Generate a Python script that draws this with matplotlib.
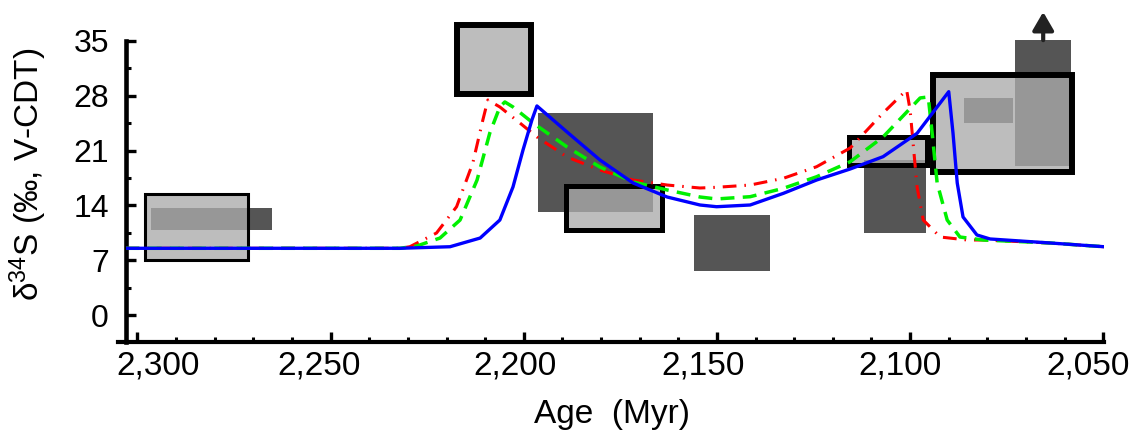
import numpy as np
import matplotlib
matplotlib.use('Agg')
import matplotlib.pyplot as plt
from matplotlib.patches import Rectangle
from matplotlib.transforms import ScaledTranslation

plt.rcParams['font.family'] = ['Liberation Sans', 'DejaVu Sans']
plt.rcParams['mathtext.fontset'] = 'custom'
plt.rcParams['mathtext.rm'] = 'Liberation Sans'
plt.rcParams['mathtext.it'] = 'Liberation Sans:italic'

# framed light boxes: age range (Myr) and d34S range (permil)
box_old = [2298.0, 2217.3, 2189.2, 2115.7, 2094.0]
box_young = [2271.5, 2198.1, 2164.3, 2095.5, 2058.1]
box_lo = [7.0, 28.2, 10.8, 19.2, 18.3]
box_hi = [15.4, 37.0, 16.5, 22.7, 30.7]

# dark boxes
dark_old = [2296.5, 2196.3, 2155.9, 2111.9, 2072.8, 2086.0]
dark_young = [2265.2, 2166.5, 2136.2, 2095.9, 2058.3, 2073.3]
dark_lo = [10.9, 13.2, 5.6, 10.5, 19.0, 24.5]
dark_hi = [13.7, 25.8, 12.8, 19.8, 35.1, 27.7]
lower_limit_box = 4   # dark box whose value is only a lower limit

# model curves
blue_age = [2303.1, 2232.1, 2219.1, 2211.3, 2206.2, 2202.8, 2200.2, 2197.9, 2196.6,
            2188.8, 2180.3, 2171.7, 2162.9, 2154.4, 2150.1, 2141.4, 2132.8, 2124.2,
            2115.5, 2107.0, 2098.2, 2090.0, 2088.9, 2087.8, 2086.3, 2082.7, 2079.3,
            2063.8, 2049.8]
blue_val = [8.52, 8.52, 8.72, 9.83, 12.13, 16.35, 21.08, 24.91, 26.7,
            23.37, 19.8, 16.86, 15.07, 14.05, 13.83, 14.05, 15.54, 17.24,
            18.65, 20.22, 23.2, 28.52, 23.25, 16.86, 12.52, 10.22, 9.71,
            9.2, 8.72]

red_age = [2303.1, 2232.1, 2229.5, 2222.6, 2217.4, 2213.2, 2210.6, 2209.3, 2206.2,
           2201.0, 2196.6, 2188.8, 2180.3, 2171.7, 2162.9, 2154.4, 2150.1, 2141.4,
           2132.8, 2124.2, 2115.5, 2107.0, 2100.9, 2100.0, 2098.2, 2096.6, 2092.2,
           2085.2, 2081.1, 2063.8, 2049.8]
red_val = [8.52, 8.52, 8.72, 10.47, 13.83, 19.41, 24.91, 27.46, 26.57,
           24.52, 22.74, 20.18, 18.52, 17.24, 16.6, 16.22, 16.31, 16.6,
           17.46, 18.94, 21.33, 25.8, 28.74, 26.18, 16.35, 12.13, 9.96,
           9.58, 9.58, 9.2, 8.72]

green_age = [2303.1, 2232.1, 2227.7, 2221.7, 2216.5, 2212.1, 2208.8, 2206.2, 2204.9,
             2202.8, 2197.6, 2188.8, 2180.3, 2171.7, 2162.9, 2154.4, 2150.1, 2141.4,
             2132.8, 2124.2, 2115.5, 2107.0, 2097.4, 2095.3, 2094.3, 2093.0, 2090.4,
             2087.1, 2081.1, 2063.8, 2049.8]
green_val = [8.52, 8.52, 8.81, 9.83, 12.13, 17.24, 23.25, 26.57, 27.21,
             26.57, 24.52, 21.46, 18.9, 16.99, 15.97, 15.07, 14.82, 15.11,
             16.18, 17.66, 19.58, 22.74, 27.72, 27.85, 23.25, 16.86, 12.13,
             9.96, 9.58, 9.2, 8.72]

x_major = [2300, 2250, 2200, 2150, 2100, 2050]
y_major = [0, 7, 14, 21, 28, 35]

fig = plt.figure(figsize=(11.39, 4.44), dpi=100)
ax = fig.add_axes([0.1102, 0.2288, 0.8591, 0.7712])

light = '#bdbdbd'
dark = '#555555'
mid = '#979797'
frame_lw = [2.2, 4.3, 3.6, 3.6, 4.3]

for o, y, lo, hi in zip(dark_old, dark_young, dark_lo, dark_hi):
    ax.add_patch(Rectangle((y, lo), o - y, hi - lo, facecolor=dark, edgecolor='none', zorder=1))
for o, y, lo, hi in zip(box_old, box_young, box_lo, box_hi):
    ax.add_patch(Rectangle((y, lo), o - y, hi - lo, facecolor=light, edgecolor='none', zorder=2))
# where a dark box falls inside a framed box it shows as mid grey
for bo, by, bl, bh in zip(box_old, box_young, box_lo, box_hi):
    for do, dy, dl, dh in zip(dark_old, dark_young, dark_lo, dark_hi):
        o, y = min(bo, do), max(by, dy)
        lo, hi = max(bl, dl), min(bh, dh)
        if o > y and hi > lo:
            ax.add_patch(Rectangle((y, lo), o - y, hi - lo, facecolor=mid, edgecolor='none', zorder=3))
for (o, y, lo, hi), lw in zip(zip(box_old, box_young, box_lo, box_hi), frame_lw):
    ax.add_patch(Rectangle((y, lo), o - y, hi - lo, fill=False, edgecolor='black',
                           lw=lw, joinstyle='miter', zorder=4))

ax.plot(red_age, red_val, color='#ff0000', lw=2.2, ls=(0, (4.5, 2.6, 0.5, 2.6)), zorder=5)
ax.plot(green_age, green_val, color='#00f000', lw=2.5, ls=(0, (4.0, 2.4)), zorder=6)
ax.plot(blue_age, blue_val, color='#0000ff', lw=2.4, zorder=7)

ax_x = (dark_old[lower_limit_box] + dark_young[lower_limit_box]) / 2
ax_top = dark_hi[lower_limit_box]
ax.annotate('', xy=(ax_x, ax_top + 3.6), xytext=(ax_x, ax_top),
            arrowprops=dict(arrowstyle='-|>,head_length=0.55,head_width=0.32',
                            color='#222222', lw=3, mutation_scale=20,
                            shrinkA=0, shrinkB=0),
            annotation_clip=False, zorder=8)

ax.set_xlim(2303.1, 2049.8)
ax.set_ylim(-3.5, 40.23)
for s in ['top', 'right']:
    ax.spines[s].set_visible(False)
ax.spines['left'].set_bounds(-3.5, 35)
ax.spines['left'].set_linewidth(3.3)
ax.spines['bottom'].set_bounds(2305, 2049.8)
ax.spines['bottom'].set_linewidth(3.0)

ax.set_xticks(x_major)
ax.set_xticks(np.arange(2050, 2301, 10), minor=True)
ax.set_xticklabels(['{:,}'.format(v) for v in x_major], fontsize=24)
ax.set_yticks(y_major)
ax.set_yticks(np.arange(3.5, 35, 7), minor=True)
ax.set_yticklabels([str(v) for v in y_major], fontsize=23)
ax.tick_params(which='major', direction='in', length=7.2, width=2.4)
ax.tick_params(which='minor', direction='in', length=3.6, width=2.2)
ax.tick_params(axis='x', which='major', pad=6)
ax.tick_params(axis='y', which='major', pad=12)

shifts = [21, -12, -9, -14, -10, -15]
for lab, dx in zip(ax.get_xticklabels(), shifts):
    lab.set_transform(lab.get_transform() + ScaledTranslation(dx / 100, 0, fig.dpi_scale_trans))

ax.set_xlabel('Age  (Myr)', fontsize=24)
ax.xaxis.set_label_coords(0.497, -0.165)
ax.set_ylabel(r'δ$^{34}$S (‰, V-CDT)', fontsize=24)
ax.yaxis.set_label_coords(-0.078, 0.49)

fig.savefig('out.png', dpi=100)
